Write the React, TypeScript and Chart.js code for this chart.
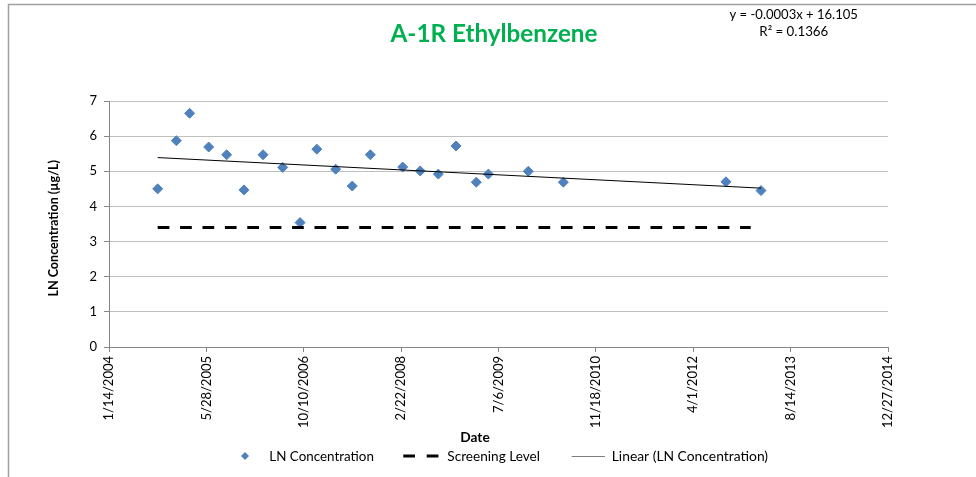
import React, { useEffect, useRef } from 'react';
import { Chart, registerables } from 'chart.js';

Chart.register(...registerables);

// Sample dates as Excel serial day numbers (38000 = 1/14/2004)
const SAMPLE_DATES = [
  38250, 38346, 38414, 38512, 38604, 38693, 38791, 38892, 38981, 39067, 39164, 39249,
  39342, 39508, 39598, 39691, 39782, 39886, 39948, 40153, 40333, 41168, 41348,
];
const LN_CONC = [
  4.5, 5.87, 6.65, 5.69, 5.47, 4.47, 5.47, 5.11, 3.54, 5.63, 5.06, 4.58,
  5.47, 5.12, 5.01, 4.92, 5.72, 4.69, 4.92, 5.0, 4.69, 4.7, 4.45,
];
const SCREENING_DATES = [38250, 41295];
const SCREENING_LEVEL = [3.4, 3.4];
const TREND_DATES = [38250, 41348];
const TREND_VALUES = [5.39, 4.52];

const X_MIN = 38000;
const X_MAX = 42000;
const X_STEP = 500;
const Y_MIN = 0;
const Y_MAX = 7;
const Y_STEP = 1;

const TITLE = 'A-1R Ethylbenzene';
const EQUATION = 'y = -0.0003x + 16.105';
const R_SQUARED = 'R² = 0.1366';
const X_TITLE = 'Date';
const Y_TITLE = 'LN Concentration (µg/L)';
const LEGEND_LABELS = ['LN Concentration', 'Screening Level', 'Linear (LN Concentration)'];

const FONT = 'Lato, "Open Sans", sans-serif';

function serialToLabel(s: number): string {
  const d = new Date(Date.UTC(1899, 11, 30) + s * 86400000);
  return `${d.getUTCMonth() + 1}/${d.getUTCDate()}/${d.getUTCFullYear()}`;
}

function fitText(
  ctx: CanvasRenderingContext2D,
  text: string,
  x: number,
  y: number,
  width: number,
  weight: string,
  color: string,
  align: CanvasTextAlign = 'center'
) {
  ctx.font = `${weight} 100px ${FONT}`;
  const w = ctx.measureText(text).width;
  const size = (100 * width) / w;
  ctx.font = `${weight} ${size}px ${FONT}`;
  ctx.fillStyle = color;
  ctx.textAlign = align;
  ctx.textBaseline = 'alphabetic';
  ctx.fillText(text, x, y);
}

const overlayPlugin = {
  id: 'overlayText',
  afterDraw(chart: any) {
    const ctx: CanvasRenderingContext2D = chart.ctx;
    ctx.save();
    // outer frame (left and top edges visible)
    ctx.strokeStyle = '#a0a0a0';
    ctx.lineWidth = 1.5;
    ctx.beginPath();
    ctx.moveTo(8.5, 477);
    ctx.lineTo(8.5, 4.5);
    ctx.lineTo(976, 4.5);
    ctx.stroke();

    // title and equation
    fitText(ctx, TITLE, 494, 42, 207, 'bold', '#00b050');
    fitText(ctx, EQUATION, 793.7, 18.5, 128.5, 'normal', '#000');
    fitText(ctx, R_SQUARED, 793.8, 36, 69, 'normal', '#000');

    // axis titles
    fitText(ctx, X_TITLE, 475, 441.5, 29.5, 'bold', '#000');
    ctx.save();
    ctx.translate(58, 228.3);
    ctx.rotate(-Math.PI / 2);
    fitText(ctx, Y_TITLE, 0, 0, 136.7, 'bold', '#000');
    ctx.restore();

    // legend
    const ly = 456;
    ctx.fillStyle = '#4f81bd';
    ctx.beginPath();
    ctx.moveTo(245, ly - 4);
    ctx.lineTo(249, ly);
    ctx.lineTo(245, ly + 4);
    ctx.lineTo(241, ly);
    ctx.closePath();
    ctx.fill();
    fitText(ctx, LEGEND_LABELS[0], 269.3, 460.5, 104.7, 'normal', '#000', 'left');

    ctx.strokeStyle = '#000';
    ctx.lineWidth = 3;
    ctx.setLineDash([11.7, 11.7]);
    ctx.beginPath();
    ctx.moveTo(403.3, ly);
    ctx.lineTo(438.5, ly);
    ctx.stroke();
    ctx.setLineDash([]);
    fitText(ctx, LEGEND_LABELS[1], 447.3, 460.5, 92.7, 'normal', '#000', 'left');

    ctx.strokeStyle = '#7f7f7f';
    ctx.lineWidth = 1;
    ctx.beginPath();
    ctx.moveTo(571.7, ly + 0.5);
    ctx.lineTo(605, ly + 0.5);
    ctx.stroke();
    fitText(ctx, LEGEND_LABELS[2], 611.7, 460.5, 156.6, 'normal', '#000', 'left');
    ctx.restore();
  },
};

export default function App() {
  const canvasRef = useRef<HTMLCanvasElement | null>(null);

  useEffect(() => {
    const canvas = canvasRef.current;
    if (!canvas) return;
    const chart = new Chart(canvas, {
      type: 'scatter',
      data: {
        datasets: [
          {
            type: 'line',
            label: LEGEND_LABELS[2],
            data: TREND_DATES.map((x, i) => ({ x, y: TREND_VALUES[i] })),
            borderColor: '#000',
            borderWidth: 1,
            pointRadius: 0,
            fill: false,
            order: 1,
          },
          {
            type: 'line',
            label: LEGEND_LABELS[1],
            data: SCREENING_DATES.map((x, i) => ({ x, y: SCREENING_LEVEL[i] })),
            borderColor: '#000',
            borderWidth: 3,
            borderDash: [11.7, 10.7],
            pointRadius: 0,
            fill: false,
            order: 2,
          },
          {
            type: 'scatter',
            label: LEGEND_LABELS[0],
            data: SAMPLE_DATES.map((x, i) => ({ x, y: LN_CONC[i] })),
            pointStyle: 'rectRot',
            pointRadius: 5,
            backgroundColor: '#4f81bd',
            borderColor: '#4f81bd',
            borderWidth: 1,
            order: 3,
          },
        ] as any,
      },
      options: {
        animation: false,
        responsive: false,
        events: [],
        layout: { padding: { top: 101, right: 88, left: 0, bottom: 0 } },
        plugins: {
          legend: { display: false },
          title: { display: false },
          tooltip: { enabled: false },
        },
        scales: {
          x: {
            type: 'linear',
            min: X_MIN,
            max: X_MAX,
            afterBuildTicks: (scale: any) => {
              const t = [];
              for (let v = X_MIN; v <= X_MAX; v += X_STEP) t.push({ value: v });
              scale.ticks = t;
            },
            afterFit: (scale: any) => {
              scale.height = 130;
            },
            ticks: {
              callback: (v: any) => serialToLabel(Number(v)),
              minRotation: 90,
              maxRotation: 90,
              autoSkip: false,
              padding: 4,
              color: '#000',
              font: { family: FONT, size: 13 },
            },
            grid: {
              drawOnChartArea: false,
              drawTicks: true,
              tickLength: 5,
              color: '#868686',
              tickColor: '#868686',
            },
            border: { color: '#868686', width: 1 },
          },
          y: {
            min: Y_MIN,
            max: Y_MAX,
            afterFit: (scale: any) => {
              scale.width = 109;
            },
            ticks: {
              stepSize: Y_STEP,
              padding: 7,
              color: '#000',
              font: { family: FONT, size: 13 },
            },
            grid: {
              color: '#bfbfbf',
              tickColor: '#868686',
              tickLength: 5,
            },
            border: { color: '#868686', width: 1 },
          },
        },
      } as any,
      plugins: [overlayPlugin],
    });
    return () => chart.destroy();
  }, []);

  return (
    <div style={{ position: 'absolute', left: 0, top: 0, width: 976, height: 477, background: '#fff' }}>
      <canvas ref={canvasRef} width={976} height={477} style={{ width: 976, height: 477 }} />
    </div>
  );
}
